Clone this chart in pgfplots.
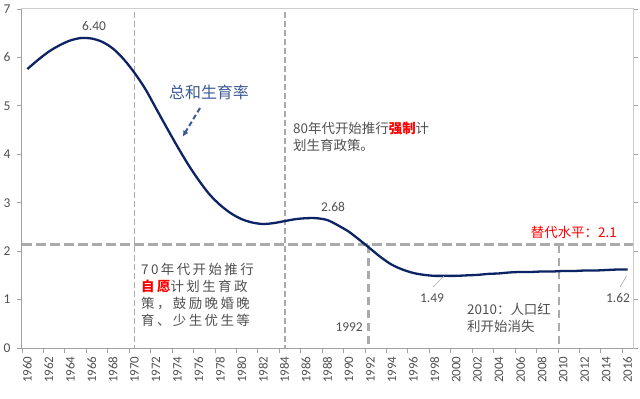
\documentclass[border=0pt]{standalone}
\usepackage{pgfplots}
\pgfplotsset{compat=1.18}
\usetikzlibrary{arrows.meta}
\usepackage{fontspec}
\setmainfont{Carlito}
\newfontfamily\cjk{Noto Sans CJK SC}
\definecolor{navy}{RGB}{12,35,100}
\definecolor{dgrey}{RGB}{80,80,80}
\definecolor{dashg}{RGB}{170,170,170}
\definecolor{axgrey}{RGB}{160,160,160}
\definecolor{boxgrey}{RGB}{205,205,205}
\definecolor{lblue}{RGB}{60,90,150}
\definecolor{myred}{RGB}{255,0,0}
\begin{document}
\begin{tikzpicture}
\useasboundingbox (-22bp,-51bp) rectangle (618bp,348bp);
\begin{axis}[at={(0pt,0pt)}, anchor=south west, scale only axis,
  width=611bp, height=339bp,
  xmin=1959.5, xmax=2016.5, ymin=0, ymax=7,
  /pgf/number format/assume math mode=true,
  ytick={0,...,7},
  xtick={1960,1962,...,2016},
  x tick label style={/pgf/number format/1000 sep=},
  xticklabel style={rotate=90, anchor=east, font=\fontsize{13}{14}\selectfont, text=dgrey},
  yticklabel style={font=\fontsize{13.5}{14}\selectfont, text=dgrey, xshift=-3bp},
  axis line style={boxgrey, line width=1bp},
  tick align=outside, major tick length=5bp,
  xtick style={draw=none},
  ytick style={axgrey, line width=0.8bp},
  clip=false,
]
\draw[axgrey, line width=1bp] (rel axis cs:0,1) -- (rel axis cs:0,0) -- (rel axis cs:1,0);
\pgfplotsinvokeforeach{1959.5,1961.5,...,2015.5}{
  \draw[axgrey, line width=0.8bp] (axis cs:#1,0) -- (axis cs:#1,-0.1);
}
% reference lines
\draw[dashg, line width=1.8bp, dash pattern=on 6bp off 3bp] (axis cs:1970,6.94) -- (axis cs:1970,0);
\draw[dashg, line width=1.8bp, dash pattern=on 6bp off 3bp] (axis cs:1984,6.94) -- (axis cs:1984,0);
\draw[dashg, line width=2.6bp, dash pattern=on 8bp off 5bp] (axis cs:1991.85,2.13) -- (axis cs:1991.85,0);
\draw[dashg, line width=2.6bp, dash pattern=on 8bp off 5bp] (axis cs:2009.6,2.13) -- (axis cs:2009.6,0);
\draw[dashg, line width=3bp, dash pattern=on 10bp off 4bp] (axis cs:1959.5,2.13) -- (axis cs:2016.5,2.13);
\addplot[navy, line width=2.3bp, smooth, no marks] table {
x y
1960 5.76
1961 5.95
1962 6.12
1963 6.25
1964 6.35
1965 6.40
1966 6.39
1967 6.32
1968 6.18
1969 5.96
1970 5.68
1971 5.35
1972 4.95
1973 4.55
1974 4.16
1975 3.79
1976 3.46
1977 3.17
1978 2.95
1979 2.78
1980 2.66
1981 2.59
1982 2.56
1983 2.58
1984 2.62
1985 2.66
1986 2.68
1987 2.68
1988 2.64
1989 2.53
1990 2.40
1991 2.23
1992 2.05
1993 1.87
1994 1.72
1995 1.62
1996 1.55
1997 1.51
1998 1.49
1999 1.49
2000 1.49
2001 1.50
2002 1.51
2003 1.53
2004 1.54
2005 1.56
2006 1.57
2007 1.57
2008 1.58
2009 1.58
2010 1.59
2011 1.59
2012 1.60
2013 1.60
2014 1.61
2015 1.62
2016 1.62
};
\end{axis}
% annotations (absolute bp, axis south-west at origin)
\node[inner sep=0pt, text=dgrey, font=\fontsize{13.5}{15}\selectfont] at (72bp,322bp) {6.40};
\node[inner sep=0pt, text=dgrey, font=\fontsize{13.5}{15}\selectfont] at (311bp,141bp) {2.68};
\node[inner sep=0pt, text=dgrey, font=\fontsize{13.5}{15}\selectfont] at (410bp,50bp) {1.49};
\node[inner sep=0pt, text=dgrey, font=\fontsize{13.5}{15}\selectfont] at (596bp,50bp) {1.62};
\node[inner sep=0pt, text=dgrey, font=\fontsize{13.5}{15}\selectfont, anchor=east] at (341bp,21bp) {1992};
\draw[dashg, line width=0.6bp] (422bp,72bp) -- (411bp,61bp);
\draw[dashg, line width=0.6bp] (604.7bp,72.3bp) -- (598bp,61bp);
\node[inner sep=0pt, text=lblue, font=\cjk\fontsize{16}{18}\selectfont] at (187bp,255.3bp) {总和生育率};
\draw[lblue, line width=2bp, dash pattern=on 5bp off 3bp, -{Latex[length=6bp,width=6bp]}] (178bp,240bp) -- (160.7bp,211.3bp);
\node[inner sep=0pt, text=dgrey, font=\cjk\fontsize{13.5}{17}\selectfont, align=left, anchor=west] at (271bp,211.5bp)
  {80年代开始推行{\color{myred}\bfseries 强制}计\\划生育政策。};
\node[inner sep=0pt, text=myred, font=\cjk\fontsize{13.5}{15}\selectfont, anchor=east] at (595bp,116bp) {替代水平：2.1};
\node[inner sep=0pt, text=dgrey, font=\cjk\fontsize{13.5}{17}\selectfont\addfontfeature{LetterSpace=18}, align=left, anchor=west] at (119bp,53.5bp)
  {70年代开始推行\\{\color{myred}\bfseries\addfontfeature{LetterSpace=18}自愿}计划生育政\\策，鼓励晚婚晚\\育、少生优生等};
\node[inner sep=0pt, text=dgrey, font=\cjk\fontsize{13.5}{16.5}\selectfont, align=left, anchor=west] at (445bp,30bp)
  {2010：人口红\\利开始消失};
\end{tikzpicture}
\end{document}
